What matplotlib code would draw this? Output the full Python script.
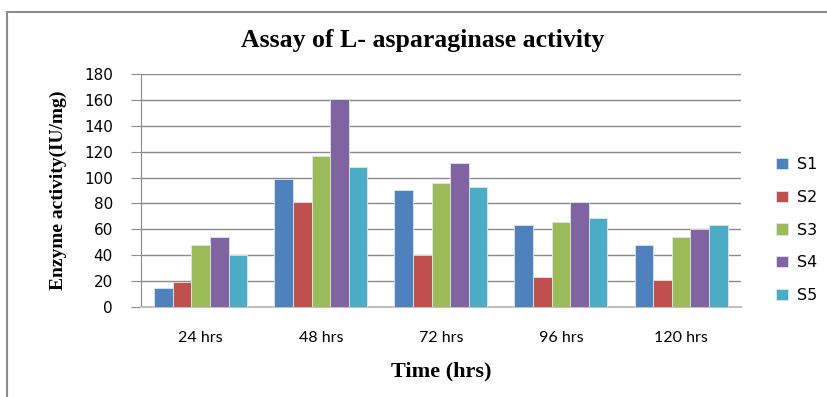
import numpy as np
import matplotlib
matplotlib.use('Agg')
import matplotlib.pyplot as plt
from matplotlib.patches import Rectangle

## data
times = ['24 hrs', '48 hrs', '72 hrs', '96 hrs', '120 hrs']
s1 = [15, 99, 90, 63, 48]
s2 = [19, 81, 40, 23, 21]
s3 = [48, 117, 96, 66, 54]
s4 = [54, 161, 111, 81, 60]
s5 = [40, 108, 93, 69, 63]
series = ['S1', 'S2', 'S3', 'S4', 'S5']
colors = ['#4F81BD', '#C0504D', '#9BBB59', '#8064A2', '#4BACC6']

fig = plt.figure(figsize=(8.28, 3.97), dpi=100)
ax = fig.add_axes([0.170, 0.2267, 0.725, 0.587])

# outer frame like the excel chart area
fig.patches.append(Rectangle((7/828, -0.1), 1.1, 1.1 - 12/397, transform=fig.transFigure,
                             fill=False, edgecolor='#8c8c8c', linewidth=1.5))

x = np.arange(len(times))
w = 0.155
for i, (vals, name) in enumerate(zip([s1, s2, s3, s4, s5], series)):
    ax.bar(x + (i - 2) * w, vals, width=w, color=colors[i], label=name,
           edgecolor='#dde6f0', linewidth=0.6, zorder=3)

ax.set_xlim(-0.5, 4.5)
ax.set_ylim(0, 180)
ax.set_yticks(range(0, 181, 20))
ax.set_xticks(x)
ax.set_xticklabels(times)
ax.grid(axis='y', color='#8a8a8a', linewidth=1.0, zorder=0)
for s in ['top', 'right']:
    ax.spines[s].set_visible(False)
ax.spines['left'].set_color('#8a8a8a')
ax.spines['bottom'].set_color('#c0c0c0')
ax.spines['bottom'].set_linewidth(1.5)
ax.tick_params(axis='y', length=7, color='#8a8a8a', labelsize=11, pad=13)
ax.tick_params(axis='x', length=0, labelsize=11.5, pad=17)
for lab in ax.get_yticklabels():
    lab.set_fontfamily('DejaVu Sans')
for lab in ax.get_xticklabels():
    lab.set_fontfamily('Lato')

fig.text(0.511, 0.897, 'Assay of L- asparaginase activity', ha='center', va='center',
         fontsize=18.5, fontweight='bold', family='Liberation Serif')
ax.set_xlabel('Time (hrs)', fontsize=16, fontweight='bold', family='Liberation Serif', labelpad=12)
ax.set_ylabel('Enzyme activity(IU/mg)', fontsize=14, fontweight='bold', family='Liberation Serif', labelpad=12)

leg = ax.legend(loc='center left', bbox_to_anchor=(1.035, 0.33), frameon=False,
                prop={'family': 'DejaVu Sans', 'size': 11.5}, handlelength=0.7, handleheight=0.7,
                labelspacing=1.1, handletextpad=0.6)

fig.savefig('out.png', dpi=100)
